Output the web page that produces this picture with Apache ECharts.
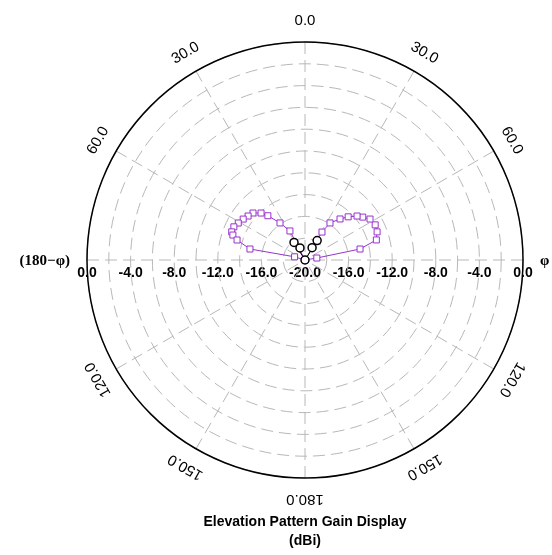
<!DOCTYPE html>
<html>
<head>
<meta charset="utf-8">
<script src="https://cdn.jsdelivr.net/npm/echarts@6/dist/echarts.min.js"></script>
<style>html,body{margin:0;padding:0;background:#fff;}#chart{width:552px;height:555px;}</style>
</head>
<body>
<div id="chart"></div>
<script>
// ---- data (gain in dBi vs angle, degrees clockwise from top) ----
const rightAngles = [90, 80.5, 78.7, 74.3, 68.7, 63.4, 57.8, 53.4, 49.8, 45, 40.5, 34, 31.3, 0];
const rightGain   = [-20, -18.9, -14.85, -13.2, -12.9, -12.8, -12.95, -13.4, -13.75, -14.4, -15.05, -15.9, -17.0, -20];
const leftAngles  = [360, 332.6, 326, 320, 316.9, 312.1, 307.7, 303.5, 299, 295, 291, 289.1, 286.4, 281.3, 287, 270];
const leftGain    = [-20, -17.0, -15.9, -14.7, -14.1, -13.57, -13.4, -13.2, -13.0, -12.8, -12.8, -13.0, -13.5, -14.85, -19.0, -20];
const innerAngles = [30, 32, 0, 328, 337.4];
const innerGain   = [-18.7, -17.9, -20, -18.1, -18.8];

const angleLabelAngles = [0, 30, 60, 90, 120, 150, 180, 210, 240, 270, 300, 330];
const angleLabelTexts  = ['0.0', '30.0', '60.0', 'φ', '120.0', '150.0', '180.0', '150.0', '120.0', '(180−φ)', '60.0', '30.0'];
const radialTickValues = [0, -4, -8, -12, -16, -20];
const radialMin = -20, radialMax = 0;

// ---- layout ----
const CX = 305, CY = 260, R = 218, LR = 239;

const chart = echarts.init(document.getElementById('chart'), null, {renderer: 'canvas'});

const frontData = rightAngles.map((a, i) => [rightGain[i], a]);
const backData = leftAngles.map((a, i) => [leftGain[i], a]);
const innerData = innerAngles.map((a, i) => [innerGain[i], a]);

const graphics = [];
angleLabelAngles.forEach((a, i) => {
  const rad = a * Math.PI / 180;
  const txt = angleLabelTexts[i];
  if (a === 90 || a === 270) {
    graphics.push({
      type: 'text',
      x: CX + Math.sin(rad) * 235,
      y: CY + 1,
      style: {
        text: txt, fill: '#000',
        font: 'bold 15px "Liberation Serif"',
        textAlign: a === 90 ? 'left' : 'right',
        textVerticalAlign: 'middle'
      }
    });
  } else {
    graphics.push({
      type: 'text',
      x: CX + Math.sin(rad) * LR,
      y: CY - Math.cos(rad) * LR,
      rotation: -rad,
      style: {
        text: txt, fill: '#000',
        font: '15px "Liberation Sans"',
        textAlign: 'center', textVerticalAlign: 'middle'
      }
    });
  }
});
[-1, 1].forEach(side => {
  radialTickValues.forEach(v => {
    if (side === 1 && v === radialMin) return;
    const d = (v - radialMin) / (radialMax - radialMin) * R;
    graphics.push({
      type: 'text',
      x: CX + side * d,
      y: CY + 13,
      style: {
        text: v.toFixed(1), fill: '#000',
        font: 'bold 14px "Liberation Sans"',
        textAlign: 'center', textVerticalAlign: 'middle'
      }
    });
  });
});
graphics.push({
  type: 'text', x: CX, y: 522,
  style: {text: 'Elevation Pattern Gain Display', fill: '#000', font: 'bold 14px "Liberation Sans"', textAlign: 'center', textVerticalAlign: 'middle'}
});
graphics.push({
  type: 'text', x: CX, y: 541,
  style: {text: '(dBi)', fill: '#000', font: 'bold 14px "Liberation Sans"', textAlign: 'center', textVerticalAlign: 'middle'}
});

chart.setOption({
  animation: false,
  backgroundColor: '#fff',
  polar: {center: [CX, CY], radius: R},
  angleAxis: {
    type: 'value', min: 0, max: 360, interval: 30, startAngle: 90, clockwise: true,
    axisLine: {show: true, lineStyle: {color: '#000', width: 1.5}},
    axisTick: {show: false},
    axisLabel: {show: false},
    splitLine: {show: true, lineStyle: {color: '#b8b8b8', width: 1, type: [12, 6]}}
  },
  radiusAxis: {
    type: 'value', min: radialMin, max: radialMax, interval: 2,
    axisLine: {show: false}, axisTick: {show: false}, axisLabel: {show: false},
    splitLine: {show: true, lineStyle: {color: '#b8b8b8', width: 1, type: [12, 6]}}
  },
  series: [
    {
      type: 'line', coordinateSystem: 'polar', data: frontData,
      symbol: 'rect', symbolSize: 6, showAllSymbol: true,
      lineStyle: {color: '#9933cc', width: 1},
      itemStyle: {color: '#fff', borderColor: '#9933cc', borderWidth: 1}
    },
    {
      type: 'line', coordinateSystem: 'polar', data: backData,
      symbol: 'rect', symbolSize: 6, showAllSymbol: true,
      lineStyle: {color: '#9933cc', width: 1},
      itemStyle: {color: '#fff', borderColor: '#9933cc', borderWidth: 1}
    },
    {
      type: 'line', coordinateSystem: 'polar', data: innerData,
      symbol: 'circle', symbolSize: 8, showAllSymbol: true,
      lineStyle: {color: '#000', width: 1},
      itemStyle: {color: '#fff', borderColor: '#000', borderWidth: 1.5}
    }
  ],
  graphic: graphics
});
</script>
</body>
</html>
